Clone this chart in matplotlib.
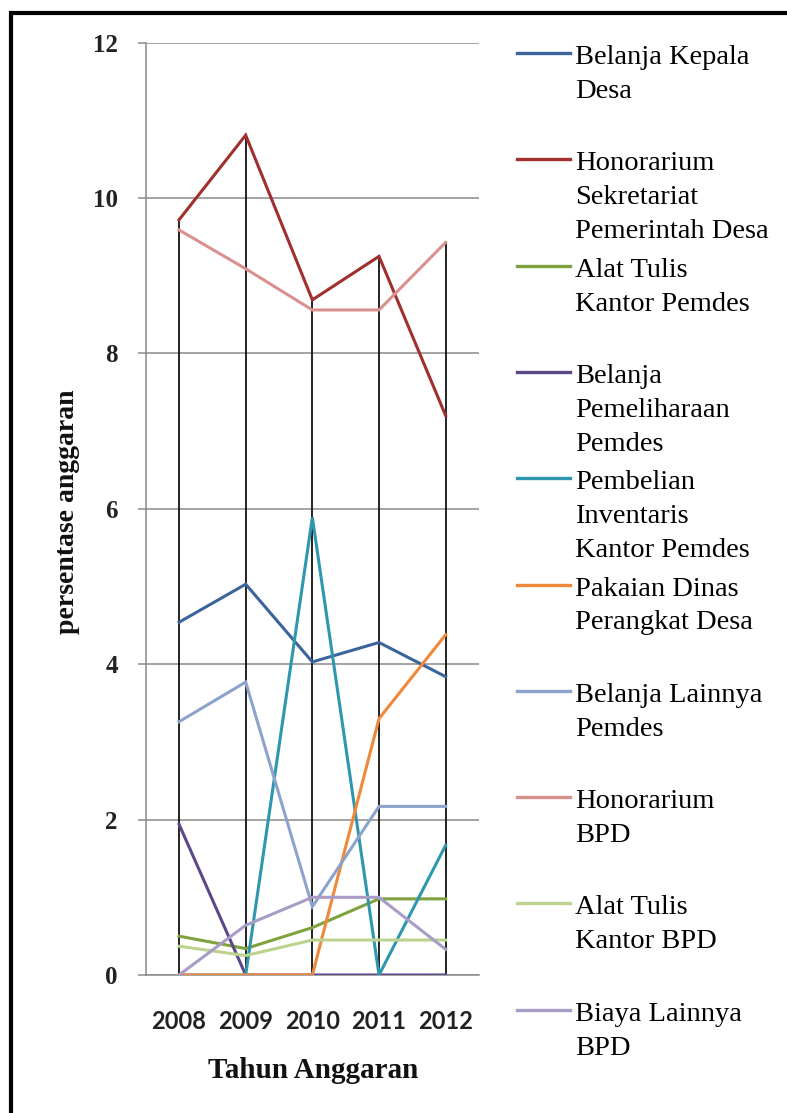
import matplotlib
matplotlib.use("Agg")
import matplotlib.pyplot as plt
from matplotlib.lines import Line2D

years = ["2008", "2009", "2010", "2011", "2012"]
series_names = [
    "Belanja Kepala\nDesa",
    "Honorarium\nSekretariat\nPemerintah Desa",
    "Alat Tulis\nKantor Pemdes",
    "Belanja\nPemeliharaan\nPemdes",
    "Pembelian\nInventaris\nKantor Pemdes",
    "Pakaian Dinas\nPerangkat Desa",
    "Belanja Lainnya\nPemdes",
    "Honorarium\nBPD",
    "Alat Tulis\nKantor BPD",
    "Biaya Lainnya\nBPD",
]
belanja_kepala_desa = [4.54, 5.03, 4.03, 4.28, 3.84]
honorarium_sekretariat = [9.72, 10.81, 8.69, 9.25, 7.20]
alat_tulis_pemdes = [0.50, 0.34, 0.61, 0.98, 0.98]
belanja_pemeliharaan = [1.94, 0.0, 0.0, 0.0, 0.0]
pembelian_inventaris = [0.0, 0.0, 5.89, 0.0, 1.67]
pakaian_dinas = [0.0, 0.0, 0.0, 3.30, 4.38]
belanja_lainnya_pemdes = [3.26, 3.77, 0.88, 2.17, 2.17]
honorarium_bpd = [9.59, 9.09, 8.56, 8.56, 9.43]
alat_tulis_bpd = [0.37, 0.25, 0.45, 0.45, 0.45]
biaya_lainnya_bpd = [0.0, 0.64, 1.00, 1.00, 0.33]
y_ticks = [0, 2, 4, 6, 8, 10, 12]

series_values = [belanja_kepala_desa, honorarium_sekretariat, alat_tulis_pemdes,
                 belanja_pemeliharaan, pembelian_inventaris, pakaian_dinas,
                 belanja_lainnya_pemdes, honorarium_bpd, alat_tulis_bpd,
                 biaya_lainnya_bpd]
colors = ["#3C649C", "#A02F2D", "#80A23E", "#5C4888", "#2E97AD",
          "#F0883A", "#8DA3CC", "#D99190", "#BCD38F", "#A99CC6"]

W, H = 787, 1113
fig = plt.figure(figsize=(W / 100, H / 100), dpi=100)
fig.patch.set_facecolor("white")

ax_left, ax_right, ax_top, ax_bottom = 145.7, 479.0, 42.7, 975.0
ax = fig.add_axes([ax_left / W, 1 - ax_bottom / H,
                   (ax_right - ax_left) / W, (ax_bottom - ax_top) / H])

x = list(range(len(years)))
ax.set_xlim(-0.5, len(years) - 0.5)
ax.set_ylim(0, 12)

ax.set_yticks(y_ticks)
ax.yaxis.grid(True, color="#8a8a8a", linewidth=1.1)
ax.set_axisbelow(True)

# drop lines from the highest value down to the axis
tops = [max(vals[i] for vals in series_values) for i in x]
ax.vlines(x, 0, tops, colors="#111111", linewidth=1.3, zorder=2)

for vals, c in zip(series_values, colors):
    ax.plot(x, vals, color=c, linewidth=2.2, solid_joinstyle="miter", zorder=3)

for s in ["top", "right"]:
    ax.spines[s].set_visible(False)
for s in ["left", "bottom"]:
    ax.spines[s].set_color("#8a8a8a")
    ax.spines[s].set_linewidth(1.1)
ax.spines["left"].set_zorder(1)

ax.set_xticks(x)
ax.set_xticklabels(years)
ax.tick_params(axis="x", length=0, pad=25)
ax.tick_params(axis="y", length=6, width=1.1, color="#8a8a8a", pad=14)
for lab in ax.get_xticklabels():
    lab.set_fontfamily("Lato")
    lab.set_fontweight("bold")
    lab.set_fontsize(17)
    lab.set_color("#222222")
for lab in ax.get_yticklabels():
    lab.set_fontfamily("Liberation Serif")
    lab.set_fontweight("bold")
    lab.set_fontsize(18)
    lab.set_color("#222222")

fig.text(313 / W, 1 - 1070 / H, "Tahun Anggaran", ha="center", va="center",
         family="Liberation Serif", weight="bold", fontsize=21, color="#111111")
fig.text(67 / W, 1 - 512 / H, "persentase anggaran", ha="center", va="center",
         rotation=90, family="Liberation Serif", weight="bold", fontsize=20,
         color="#111111")

# legend (drawn manually so the marker aligns with the first text line)
leg_y0, leg_step = 53.0, 106.3
for i, (name, c) in enumerate(zip(series_names, colors)):
    yy = leg_y0 + i * leg_step
    fig.add_artist(Line2D([517 / W, 570 / W], [1 - yy / H, 1 - yy / H],
                          color=c, linewidth=2.4, transform=fig.transFigure))
    fig.text(575 / W, 1 - (yy - 8) / H, name, ha="left", va="top",
             family="Liberation Serif", fontsize=20.5, linespacing=1.47,
             color="#000000")

# outer frame (top and left edges visible)
fig.add_artist(Line2D([9 / W, 1.0], [1 - 13 / H, 1 - 13 / H], color="black",
                      linewidth=3, transform=fig.transFigure, solid_capstyle="butt"))
fig.add_artist(Line2D([11 / W, 11 / W], [1 - 11 / H, 0], color="black",
                      linewidth=3, transform=fig.transFigure, solid_capstyle="butt"))

fig.savefig("out.png", dpi=100, facecolor="white")
